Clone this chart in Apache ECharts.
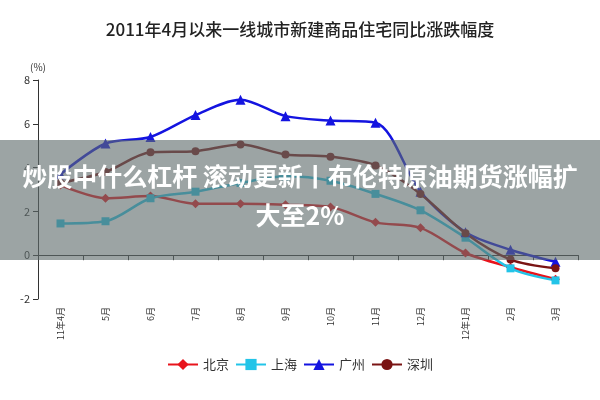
<!DOCTYPE html><html><head><meta charset="utf-8"><script src="https://cdn.jsdelivr.net/npm/echarts@6/dist/echarts.min.js"></script></head><body style="margin:0"><div id="c" style="width:600px;height:400px"></div><script>
const categories=['11年4月','5月','6月','7月','8月','9月','10月','11月','12月','12年1月','2月','3月'];
const beijing=[3.2,2.6,2.7,2.35,2.35,2.3,2.2,1.5,1.25,0.1,-0.55,-1.1];
const shanghai=[1.45,1.55,2.6,2.9,3.3,3.6,3.4,2.8,2.05,0.8,-0.6,-1.15];
const guangzhou=[3.7,5.1,5.4,6.4,7.1,6.35,6.15,6.05,2.9,1.05,0.25,-0.3];
const shenzhen=[3.3,3.8,4.7,4.75,5.05,4.6,4.5,4.1,2.8,1.0,-0.2,-0.6];
const yTicks=[-2,0,2,4,6,8];
const F='"Noto Sans CJK SC",sans-serif';
function s(name,data,color,symbol,size){return{name,type:'line',data,smooth:0.3,symbol,symbolSize:size,lineStyle:{color,width:2.5},itemStyle:{color},z:3};}
const chart=echarts.init(document.getElementById('c'));
chart.setOption({animation:false,
title:{text:'2011年4月以来一线城市新建商品住宅同比涨跌幅度',left:'center',top:16,textStyle:{fontFamily:F,fontSize:17,fontWeight:500,color:'#222'}},
grid:{left:38,right:22,top:80,bottom:101},
legend:{bottom:24,left:'center',itemWidth:30,itemGap:6,textStyle:{fontFamily:F,fontSize:13,color:'#333'},data:['北京','上海','广州','深圳']},
xAxis:{type:'category',data:categories,boundaryGap:true,axisLine:{onZero:true,lineStyle:{color:'#333'}},axisTick:{show:true,lineStyle:{color:'#333'}},axisLabel:{rotate:90,fontFamily:F,fontSize:9,color:'#333',interval:0}},
yAxis:{type:'value',min:-2,max:8,interval:2,name:'(%)',nameGap:8,nameTextStyle:{fontFamily:F,fontSize:10,color:'#333',align:'center'},axisLine:{show:true,lineStyle:{color:'#333'}},axisTick:{show:true,lineStyle:{color:'#333'}},splitLine:{show:false},axisLabel:{fontFamily:F,fontSize:11,color:'#333',formatter:v=>yTicks.includes(v)?String(v):''}},
series:[s('北京',beijing,'#e8141c','diamond',9),s('上海',shanghai,'#22c4e8','rect',8),s('广州',guangzhou,'#1414e0','triangle',10),s('深圳',shenzhen,'#7a1414','circle',8)],
graphic:[{type:'rect',shape:{x:0,y:140,width:600,height:120},style:{fill:'rgba(95,108,108,0.62)'},z:100},
{type:'text',left:'center',top:164,style:{text:'炒股中什么杠杆 滚动更新丨布伦特原油期货涨幅扩',fill:'#fff',font:'bold 25px "Noto Sans CJK SC"'},z:101},
{type:'text',left:'center',top:203,style:{text:'大至2%',fill:'#fff',font:'bold 25px "Noto Sans CJK SC"'},z:101}]
});
</script></body></html>
